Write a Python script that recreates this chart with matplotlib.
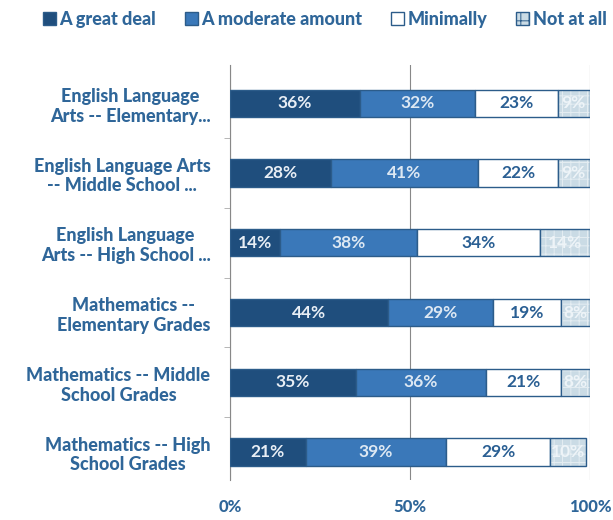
import numpy as np
import matplotlib.pyplot as plt
from matplotlib.patches import Patch

plt.rcParams['font.family'] = ['Lato', 'DejaVu Sans']
plt.rcParams['hatch.linewidth'] = 0.7

categories = [
    "English Language\nArts -- Elementary...",
    "English Language Arts\n-- Middle School ...",
    "English Language\nArts -- High School ...",
    "Mathematics --\nElementary Grades",
    "Mathematics -- Middle\nSchool Grades",
    "Mathematics -- High\nSchool Grades",
]
series_names = ["A great deal", "A moderate amount", "Minimally", "Not at all"]
great_deal = [36, 28, 14, 44, 35, 21]
moderate = [32, 41, 38, 29, 36, 39]
minimally = [23, 22, 34, 19, 21, 29]
not_at_all = [9, 9, 14, 8, 8, 10]

text_blue = '#2f6699'
edge = '#2c5c8a'
colors = ['#1f4e7d', '#3a78b9', '#ffffff', '#cadbe5']
label_colors = ['#e8eef5', '#dde8f3', '#2a5f93', '#eef4f8']
hatches = [None, None, None, '++']

fig = plt.figure(figsize=(6.13, 5.2), dpi=100)
ax = fig.add_axes([0.375, 0.077, 0.5875, 0.798])

y = np.arange(len(categories))
left = np.zeros(len(categories))
for vals, name, c, lc, h in zip([great_deal, moderate, minimally, not_at_all],
                                series_names, colors, label_colors, hatches):
    vals = np.array(vals, dtype=float)
    if h:
        # faint pattern first, then the outline on top
        ax.barh(y, vals, left=left, height=0.39, color=c, edgecolor='#e4edf2',
                linewidth=0, hatch=h, zorder=3)
        ax.barh(y, vals, left=left, height=0.39, fill=False, edgecolor=edge,
                linewidth=1.0, zorder=3)
    else:
        ax.barh(y, vals, left=left, height=0.39, color=c, edgecolor=edge,
                linewidth=1.0, zorder=3)
    for yi, l, v in zip(y, left, vals):
        ax.text(l + v / 2, yi, f"{int(v)}%", ha='center', va='center',
                fontsize=12.5, fontweight='bold', color=lc, zorder=4)
    left += vals

ax.set_xlim(0, 100)
ax.set_ylim(5.4, -0.55)
ax.set_xticks([0, 50, 100])
ax.set_xticklabels(['0%', '50%', '100%'])
ax.xaxis.grid(True, color='#888888', linewidth=0.8, zorder=0)
ax.set_yticks(y)
ax.set_yticklabels(categories, multialignment='center')
ax.set_yticks(np.arange(0.5, 5, 1), minor=True)
ax.tick_params(axis='y', which='major', length=0, pad=14, labelsize=13,
               labelcolor=text_blue)
ax.tick_params(axis='y', which='minor', length=4, color='#aaaaaa')
ax.tick_params(axis='x', length=0, pad=14, labelsize=12, labelcolor=text_blue)
for lbl in ax.get_yticklabels() + ax.get_xticklabels():
    lbl.set_fontweight('black')
for side in ['top', 'right', 'bottom']:
    ax.spines[side].set_visible(False)
ax.spines['left'].set_color('#888888')

handles = [Patch(facecolor=c, edgecolor=edge, hatch=h, label=n)
           for c, h, n in zip(colors, hatches, series_names)]
fig.legend(handles=handles, loc='upper center', bbox_to_anchor=(0.53, 1.01),
           ncol=4, frameon=False, handlelength=0.7, handleheight=0.7,
           handletextpad=0.2, columnspacing=1.6,
           prop={'size': 13, 'weight': 'black'}, labelcolor=text_blue)

fig.savefig('out.png', dpi=100)
